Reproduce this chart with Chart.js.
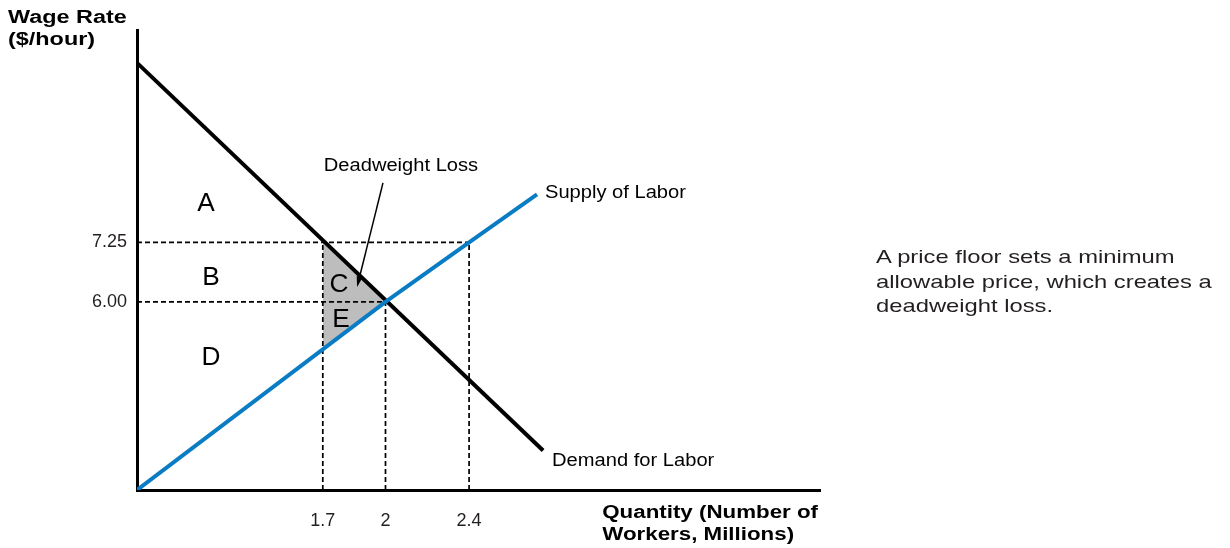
<!DOCTYPE html>
<html>
<head>
<meta charset="utf-8">
<script src="https://cdn.jsdelivr.net/npm/chart.js@4/dist/chart.umd.min.js"></script>
<style>
  html, body { margin:0; padding:0; background:#fff; }
  #wrap { position:relative; width:1230px; height:548px; font-family:"Liberation Sans", Arial, sans-serif; }
  #chart { position:absolute; left:0; top:0; }
  .ttl { position:absolute; font-weight:bold; font-size:18px; line-height:22px; color:#000; white-space:nowrap; }
  #ytitle { left:8px; top:6px; transform:scaleX(1.3); transform-origin:left top; }
  #xtitle { right:412px; top:501px; transform:scaleX(1.24); transform-origin:right top; }
  #note { position:absolute; left:876px; top:245px; font-size:18.5px; line-height:24.5px; color:#231f20; white-space:nowrap; transform:scaleX(1.285); transform-origin:left top; }
</style>
</head>
<body>
<div id="wrap">
  <canvas id="chart" width="1230" height="548"></canvas>
  <div class="ttl" id="ytitle">Wage Rate<br>($/hour)</div>
  <div class="ttl" id="xtitle">Quantity (Number of<br>Workers, Millions)</div>
  <div id="note">A price floor sets a minimum<br>allowable price, which creates a<br>deadweight loss.</div>
</div>
<script>
// axis ranges and ticks
const xRange = [0.811, 4.079];
const yRange = [2.05, 11.71];
const xTicks = [1.7, 2, 2.4];
const yTicks = [6, 7.25];
const yTickLabels = { 6: "6.00", 7.25: "7.25" };

// curves
const supplyX = [0.811, 2, 2.4, 2.725];
const supplyY = [2.05, 6, 7.25, 8.26];
const demandX = [0.811, 2.754];
const demandY = [11.02, 2.88];

// deadweight loss triangle: upper edge (demand) and lower edge (supply)
const dwlX = [1.7, 2];
const dwlTopY = [7.25, 6];
const dwlBottomY = [5.05, 6];

// dashed guide lines: [x0, y0, x1, y1]
const guides = [
  [xRange[0], 7.25, 2.4, 7.25],
  [xRange[0], 6, 2, 6],
  [1.7, yRange[0], 1.7, 7.25],
  [2, yRange[0], 2, 6],
  [2.4, yRange[0], 2.4, 7.25]
];

// region letters
const letterText = ["A", "B", "C", "E", "D"];
const letterX = [1.141, 1.165, 1.778, 1.787, 1.165];
const letterY = [8.06, 6.50, 6.36, 5.62, 4.83];

// other labels
const noteText = ["Deadweight Loss", "Supply of Labor", "Demand for Labor"];
const noteX = [2.074, 2.763, 2.797];
const noteY = [8.86, 8.29, 2.66];
const noteAlign = ["center", "left", "left"];
const arrowFrom = [1.988, 8.5];
const arrowTo = [1.864, 6.315];

const FONT = '"Liberation Sans", Arial, sans-serif';
const pts = (xs, ys) => xs.map((x, i) => ({ x, y: ys[i] }));

const datasets = [];
datasets.push({
  data: pts(dwlX, dwlTopY),
  borderWidth: 0,
  backgroundColor: "#bdbdbd",
  fill: 1,
  pointRadius: 0,
  order: 6
});
datasets.push({
  data: pts(dwlX, dwlBottomY),
  borderWidth: 0,
  fill: false,
  pointRadius: 0,
  order: 5
});
guides.forEach(g => {
  datasets.push({
    data: [{ x: g[0], y: g[1] }, { x: g[2], y: g[3] }],
    borderColor: "#000",
    borderWidth: 1.7,
    borderDash: [5, 3],
    pointRadius: 0,
    fill: false,
    order: 4
  });
});
datasets.push({
  data: pts(demandX, demandY),
  borderColor: "#000",
  borderWidth: 4,
  pointRadius: 0,
  fill: false,
  order: 2
});
datasets.push({
  data: pts(supplyX, supplyY),
  borderColor: "#0a7cc4",
  borderWidth: 4,
  pointRadius: 0,
  fill: false,
  order: 1
});

function stretchText(ctx, t, px, py, align, sx){
  ctx.save();
  ctx.translate(px, py);
  ctx.scale(sx, 1);
  ctx.textAlign = align;
  ctx.fillText(t, 0, 0);
  ctx.restore();
}

const labelPlugin = {
  id: "labels",
  afterDatasetsDraw(chart){
    const { ctx, scales: { x, y } } = chart;
    ctx.save();
    ctx.fillStyle = "#000";
    ctx.textBaseline = "middle";
    ctx.font = `25px ${FONT}`;
    letterText.forEach((t, i) => {
      stretchText(ctx, t, x.getPixelForValue(letterX[i]), y.getPixelForValue(letterY[i]), "center", 1.05);
    });
    ctx.font = `17.5px ${FONT}`;
    noteText.forEach((t, i) => {
      stretchText(ctx, t, x.getPixelForValue(noteX[i]), y.getPixelForValue(noteY[i]), noteAlign[i], 1.15);
    });
    // arrow
    const x0 = x.getPixelForValue(arrowFrom[0]), y0 = y.getPixelForValue(arrowFrom[1]);
    const x1 = x.getPixelForValue(arrowTo[0]), y1 = y.getPixelForValue(arrowTo[1]);
    const ang = Math.atan2(y1 - y0, x1 - x0);
    ctx.strokeStyle = "#000";
    ctx.lineWidth = 1.5;
    ctx.beginPath();
    ctx.moveTo(x0, y0);
    ctx.lineTo(x1 - 6 * Math.cos(ang), y1 - 6 * Math.sin(ang));
    ctx.stroke();
    ctx.beginPath();
    ctx.moveTo(x1, y1);
    ctx.lineTo(x1 - 11 * Math.cos(ang - 0.28), y1 - 11 * Math.sin(ang - 0.28));
    ctx.lineTo(x1 - 11 * Math.cos(ang + 0.28), y1 - 11 * Math.sin(ang + 0.28));
    ctx.closePath();
    ctx.fill();
    ctx.restore();
  }
};

new Chart(document.getElementById("chart"), {
  type: "line",
  data: { datasets },
  plugins: [labelPlugin],
  options: {
    responsive: false,
    animation: false,
    events: [],
    layout: { padding: { top: 30, right: 410, bottom: 0, left: 0 } },
    plugins: { legend: { display: false }, tooltip: { enabled: false } },
    scales: {
      x: {
        type: "linear",
        min: xRange[0],
        max: xRange[1],
        afterBuildTicks: (s) => { s.ticks = xTicks.map(v => ({ value: v })); },
        afterFit: (s) => { s.height = 58; },
        grid: { display: false, drawTicks: false },
        border: { display: true, color: "#000", width: 3 },
        ticks: {
          padding: 20,
          color: "#231f20",
          font: { family: FONT, size: 18 },
          maxRotation: 0,
          callback: (v) => String(v)
        }
      },
      y: {
        type: "linear",
        min: yRange[0],
        max: yRange[1],
        afterBuildTicks: (s) => { s.ticks = yTicks.map(v => ({ value: v })); },
        afterFit: (s) => { s.width = 137; },
        grid: { display: false, drawTicks: false },
        border: { display: true, color: "#000", width: 3 },
        ticks: {
          padding: 10,
          color: "#231f20",
          font: { family: FONT, size: 18 },
          callback: (v) => yTickLabels[v] || String(v)
        }
      }
    }
  }
});
</script>
</body>
</html>
